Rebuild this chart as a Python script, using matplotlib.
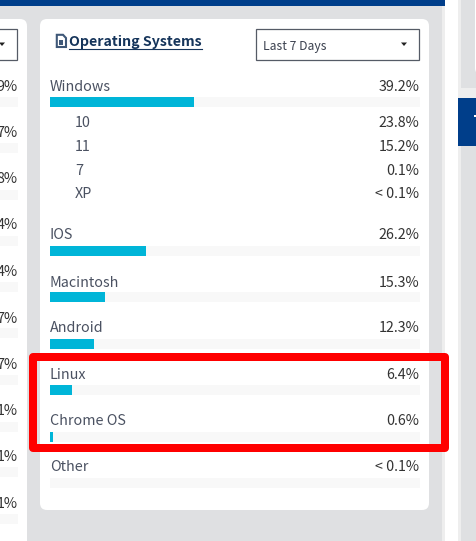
import matplotlib
matplotlib.use("Agg")
import matplotlib.pyplot as plt
from matplotlib.patches import FancyBboxPatch, Polygon, Rectangle

W, H = 477, 541

plt.rcParams["font.family"] = ["Noto Sans CJK SC", "DejaVu Sans"]

# rows with a bar, lengths
os_names = ["Windows", "IOS", "Macintosh", "Android", "Linux", "Chrome OS", "Other"]
os_values = [38.9, 25.9, 14.9, 11.9, 5.9, 0.8, 0.0]
os_labels = ["39.2%", "26.2%", "15.3%", "12.3%", "6.4%", "0.6%", "< 0.1%"]
bar_rows = [102, 251, 297, 343.5, 390, 436.5, 483]
text_rows = [91, 239, 287, 332, 379, 425, 471]

# windows versions
win_names = ["10", "11", "7", "XP"]
win_labels = ["23.8%", "15.2%", "0.1%", "< 0.1%"]
win_rows = [127, 151, 175, 198.5]

# cut off panel on the left
left_labels = ["9%", "7%", "8%", "4%", "4%", "7%", "7%", "1%", "1%", "1%"]
left_text_rows = [91, 137, 183, 229, 276, 323, 369, 415, 461, 508]
left_bar_rows = [102, 148, 195, 241, 287, 333, 380, 427, 472, 519]

GRAY = "#dfe0e2"
LIGHT = "#eeeeee"
NAVY = "#003e8a"
TRACK = "#f8f8f8"
BAR = "#00b5d8"
LABEL = "#4a5161"
VALUE = "#333333"
TITLE = "#15345a"

fig = plt.figure(figsize=(W / 100, H / 100), dpi=100, facecolor="white")

# whole page in pixel coords
ax = fig.add_axes([0, 0, 1, 1])
ax.set_xlim(0, W)
ax.set_ylim(H, 0)
ax.axis("off")


def box(x0, y0, x1, y1, color, z=1):
    ax.add_patch(Rectangle((x0, y0), x1 - x0, y1 - y0, facecolor=color, edgecolor="none", zorder=z))


def panel(x0, y0, x1, y1, color="white", z=2, r=7):
    ax.add_patch(FancyBboxPatch((x0 + r, y0 + r), x1 - x0 - 2 * r, y1 - y0 - 2 * r,
                                boxstyle=f"round,pad={r},rounding_size={r}",
                                facecolor=color, edgecolor="none", zorder=z))


box(0, 0, 442, H, GRAY)
box(442, 0, 445, H, LIGHT)
box(0, 0, 445, 6, NAVY, z=2)

# right column
box(458, 0, 477, H, LIGHT)
box(461, 0, 477, 88, GRAY)
panel(475, -20, 500, 75)
box(458, 98, 477, 146, NAVY)
box(474, 115, 477, 117, "white", z=3)
box(461, 146, 477, H, GRAY)

# panels
panel(-30, 19, 27, 580)
panel(40, 19, 429, 510)

# left dropdown and rows
ax.add_patch(Rectangle((-20, 28.5), 37.5, 31, facecolor="white", edgecolor="#555b66", lw=0.9, zorder=3))
ax.add_patch(Polygon([(-1, 42.5), (5, 42.5), (2, 46)], facecolor="#222222", zorder=4))
for label, y in zip(left_labels, left_text_rows):
    ax.text(17.5, y, label, ha="right", va="baseline", fontsize=10.3, color=VALUE, zorder=4)
for y in left_bar_rows:
    box(0, y - 5, 18, y + 5, TRACK, z=3)

# title
ax.text(69, 46, "Operating Systems", ha="left", va="baseline", fontsize=10.2, fontweight="bold",
        color=TITLE, zorder=4)
ax.plot([69, 202], [48.5, 48.5], color=TITLE, lw=0.8, zorder=4)
ax.add_patch(Polygon([(56.8, 34.8), (63, 34.8), (66, 38), (66, 47), (56.8, 47)], facecolor="white",
                     edgecolor="#3f5878", lw=1.5, zorder=4))
ax.add_patch(Rectangle((59.5, 39.5), 4, 5.5, facecolor="#3f5878", edgecolor="none", zorder=5))

# dropdown
ax.add_patch(Rectangle((256.5, 28.5), 163, 31, facecolor="white", edgecolor="#555b66", lw=0.9, zorder=3))
ax.text(263.5, 50, "Last 7 Days", ha="left", va="baseline", fontsize=8.8, color="#3c4250", zorder=4)
ax.add_patch(Polygon([(401, 42.5), (407, 42.5), (404, 46)], facecolor="#222222", zorder=4))

# text rows
for name, label, y in zip(os_names, os_labels, text_rows):
    ax.text(50, y, name, ha="left", va="baseline", fontsize=10.3, color=LABEL, zorder=4)
    ax.text(419.5, y, label, ha="right", va="baseline", fontsize=10.3, color=VALUE, zorder=4)
for name, label, y in zip(win_names, win_labels, win_rows):
    ax.text(75, y, name, ha="left", va="baseline", fontsize=10.3, color=LABEL, zorder=4)
    ax.text(419.5, y, label, ha="right", va="baseline", fontsize=10.3, color=VALUE, zorder=4)

# bars on their own 0-100 axis
bars = fig.add_axes([50 / W, 0, 370 / W, 1])
bars.set_xlim(0, 100)
bars.set_ylim(H, 0)
bars.axis("off")
bars.patch.set_alpha(0)
bars.barh(bar_rows, [100] * len(bar_rows), height=10, color=TRACK)
bars.barh(bar_rows, os_values, height=10, color=BAR)

# red highlight on top of everything
top = fig.add_axes([0, 0, 1, 1])
top.set_xlim(0, W)
top.set_ylim(H, 0)
top.axis("off")
top.patch.set_alpha(0)
top.add_patch(Rectangle((33, 357), 412, 91, facecolor="none", edgecolor="#ff0000", lw=5.76,
                        joinstyle="round"))

fig.savefig("out.png", dpi=100)
plt.close(fig)
